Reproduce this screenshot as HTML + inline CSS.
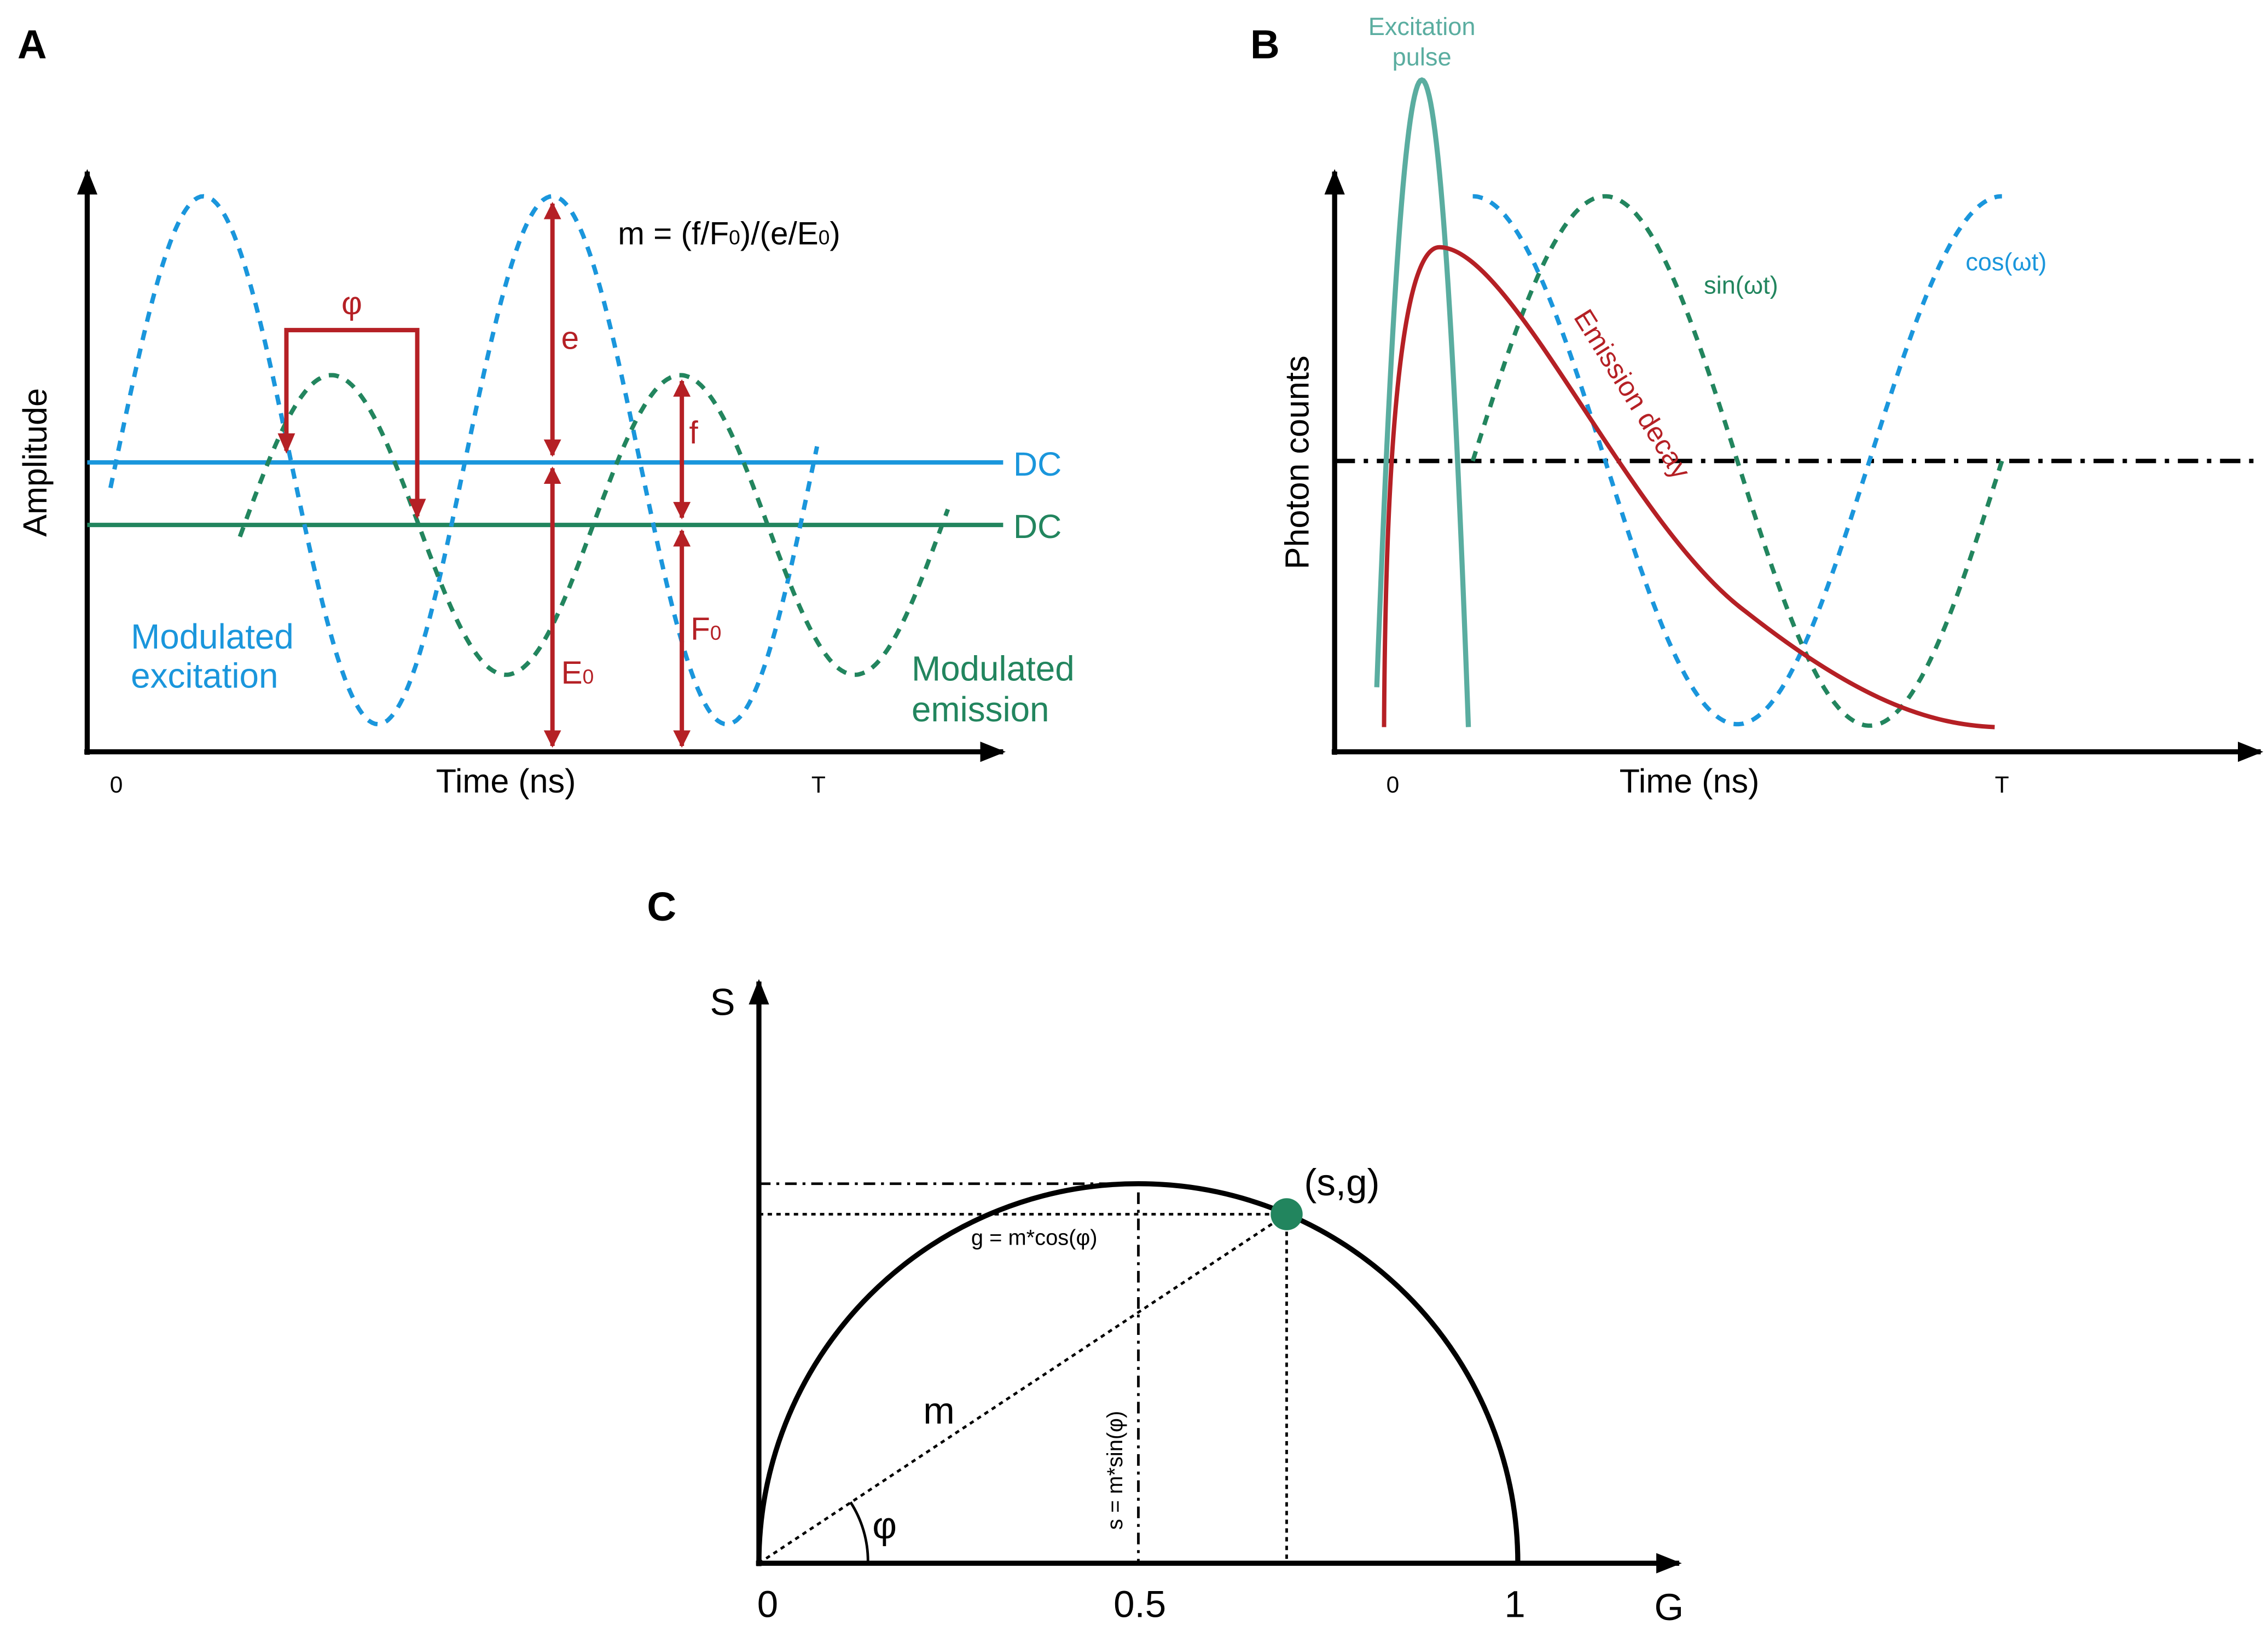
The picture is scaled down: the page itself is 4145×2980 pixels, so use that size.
<!DOCTYPE html>
<html><head><meta charset="utf-8"><style>
html,body{margin:0;padding:0;background:#fff;}
svg{display:block;font-family:"Liberation Sans",sans-serif;}
</style></head><body>
<svg id="fig" width="4145" height="2980" viewBox="0 0 1560 1121.6" preserveAspectRatio="none" xmlns="http://www.w3.org/2000/svg">
<defs>
<marker id="ak" viewBox="0 0 10 10" refX="9" refY="5" markerWidth="5" markerHeight="5" orient="auto"><path d="M0,1 L10,5 L0,9 z" fill="#000"/></marker>
<marker id="ar" viewBox="0 0 10 10" refX="9" refY="5" markerWidth="4" markerHeight="4" orient="auto-start-reverse"><path d="M0,0 L10,5 L0,10 z" fill="#b52025"/></marker>
</defs>
<rect width="1560" height="1122" fill="#fff"/>
<!-- Panel A -->
<g>
<text x="12" y="40" font-size="28" font-weight="bold">A</text>
<line x1="60" y1="519" x2="60" y2="118" stroke="#000" stroke-width="3.5" marker-end="url(#ak)"/>
<line x1="58" y1="517" x2="690" y2="517" stroke="#000" stroke-width="3.5" marker-end="url(#ak)"/>
<text transform="translate(32,318) rotate(-90)" text-anchor="middle" font-size="23">Amplitude</text>
<text x="348" y="545" text-anchor="middle" font-size="23">Time (ns)</text>
<text x="80" y="545" text-anchor="middle" font-size="16">0</text>
<text x="563" y="545" text-anchor="middle" font-size="16">T</text>
<line x1="60" y1="318" x2="690" y2="318" stroke="#1a96dc" stroke-width="3"/>
<line x1="60" y1="361" x2="690" y2="361" stroke="#22855e" stroke-width="3"/>
<text x="697" y="327" font-size="23" fill="#1a96dc">DC</text>
<text x="697" y="370" font-size="23" fill="#22855e">DC</text>
<g id="waveA"></g>
<path d="M197,310 V227 H287 V355" fill="none" stroke="#b52025" stroke-width="3"/>
<path d="M191,298 L197,312 L203,298 z M281,343 L287,357 L293,343 z" fill="#b52025"/>
<text x="242" y="216" text-anchor="middle" font-size="22" fill="#b52025">φ</text>
<line x1="380" y1="140" x2="380" y2="313" stroke="#b52025" stroke-width="3" marker-start="url(#ar)" marker-end="url(#ar)"/>
<line x1="380" y1="322" x2="380" y2="513" stroke="#b52025" stroke-width="3" marker-start="url(#ar)" marker-end="url(#ar)"/>
<line x1="469" y1="262" x2="469" y2="356" stroke="#b52025" stroke-width="3" marker-start="url(#ar)" marker-end="url(#ar)"/>
<line x1="469" y1="365" x2="469" y2="513" stroke="#b52025" stroke-width="3" marker-start="url(#ar)" marker-end="url(#ar)"/>
<text x="386" y="240" font-size="22" fill="#b52025">e</text>
<text x="386" y="470" font-size="22" fill="#b52025">E<tspan font-size="14">0</tspan></text>
<text x="474" y="305" font-size="22" fill="#b52025">f</text>
<text x="475" y="440" font-size="22" fill="#b52025">F<tspan font-size="14">0</tspan></text>
<text x="425" y="168" font-size="22">m = (f/F<tspan font-size="14">0</tspan>)/(e/E<tspan font-size="14">0</tspan>)</text>
<text x="90" y="446" font-size="24" fill="#1a96dc">Modulated</text>
<text x="90" y="473" font-size="24" fill="#1a96dc">excitation</text>
<text x="627" y="468" font-size="24" fill="#22855e">Modulated</text>
<text x="627" y="496" font-size="24" fill="#22855e">emission</text>
</g>
<!-- Panel B -->
<g>
<text x="860" y="40" font-size="28" font-weight="bold">B</text>
<line x1="918" y1="519" x2="918" y2="118" stroke="#000" stroke-width="3.5" marker-end="url(#ak)"/>
<line x1="916" y1="517" x2="1555" y2="517" stroke="#000" stroke-width="3.5" marker-end="url(#ak)"/>
<text transform="translate(900,318) rotate(-90)" text-anchor="middle" font-size="23">Photon counts</text>
<text x="1162" y="545" text-anchor="middle" font-size="23">Time (ns)</text>
<text x="958" y="545" text-anchor="middle" font-size="16">0</text>
<text x="1377" y="545" text-anchor="middle" font-size="16">T</text>
<line x1="918" y1="317" x2="1550" y2="317" stroke="#000" stroke-width="3" stroke-dasharray="14,6,3,6"/>
<g id="waveB"></g>
<text x="978" y="24" text-anchor="middle" font-size="17" fill="#5aada0">Excitation</text>
<text x="978" y="45" text-anchor="middle" font-size="17" fill="#5aada0">pulse</text>
<text x="1172" y="202" font-size="17" fill="#22855e">sin(ωt)</text>
<text x="1352" y="186" font-size="17" fill="#1a96dc">cos(ωt)</text>
<text transform="translate(1082,218) rotate(58)" font-size="19" fill="#b52025">Emission decay</text>
</g>
<!-- Panel C -->
<g>
<text x="445" y="633" font-size="28" font-weight="bold">C</text>
<line x1="522" y1="1077" x2="522" y2="675" stroke="#000" stroke-width="3.5" marker-end="url(#ak)"/>
<line x1="520" y1="1075" x2="1155" y2="1075" stroke="#000" stroke-width="3.5" marker-end="url(#ak)"/>
<text x="497" y="698" text-anchor="middle" font-size="26">S</text>
<text x="1148" y="1114" text-anchor="middle" font-size="26">G</text>
<text x="528" y="1112" text-anchor="middle" font-size="26">0</text>
<text x="784" y="1112" text-anchor="middle" font-size="26">0.5</text>
<text x="1042" y="1112" text-anchor="middle" font-size="26">1</text>
<path d="M522,1075 A261,261 0 0 1 1044,1075" fill="none" stroke="#000" stroke-width="3.5"/>
<line x1="522" y1="814" x2="770" y2="814" stroke="#000" stroke-width="1.8" stroke-dasharray="8,4,2,4"/>
<line x1="783" y1="820" x2="783" y2="1075" stroke="#000" stroke-width="1.8" stroke-dasharray="8,4,2,4"/>
<line x1="522" y1="835" x2="885" y2="835" stroke="#000" stroke-width="1.8" stroke-dasharray="3,3"/>
<line x1="885" y1="835" x2="885" y2="1075" stroke="#000" stroke-width="1.8" stroke-dasharray="3,3"/>
<line x1="522" y1="1075" x2="885" y2="835" stroke="#000" stroke-width="1.8" stroke-dasharray="3,3"/>
<path d="M597,1075 A75,75 0 0 0 585,1033" fill="none" stroke="#000" stroke-width="1.8"/>
<circle cx="885" cy="835" r="11" fill="#22855e"/>
<text x="897" y="822" font-size="26">(s,g)</text>
<text x="668" y="856" font-size="15">g = m*cos(φ)</text>
<text transform="translate(772,1052) rotate(-90)" font-size="15">s = m*sin(φ)</text>
<text x="635" y="979" font-size="26">m</text>
<text x="600" y="1058" font-size="26">φ</text>
</g>
<script>
// Wave parameters (center, amplitude, period, phase-peak x, start, end)
const waveNamesA = ['excitation-wave','emission-wave'];
const centersA = [316.5, 361];
const ampsA = [181.5, 103];
const periodsA = [240, 240];
const peaksA = [140, 228];
const startsA = [76, 165];
const endsA = [562, 652];
const colorsA = ['#1a96dc','#22855e'];
const waveNamesB = ['cos-wave','sin-wave'];
const centersB = [316.5, 317];
const ampsB = [181.5, 182];
const periodsB = [364, 364];
const peaksB = [1013, 1104];
const startsB = [1013, 1013];
const endsB = [1377, 1377];
const colorsB = ['#1a96dc','#22855e'];
const NS='http://www.w3.org/2000/svg';
function wave(g,name,c,a,p,pk,s,e,col){
  let d='';
  for(let x=s;x<=e;x+=1){const y=c-a*Math.cos(2*Math.PI*(x-pk)/p);d+=(x===s?'M':'L')+x+','+y.toFixed(1);}
  const el=document.createElementNS(NS,'path');
  el.setAttribute('d',d);el.setAttribute('fill','none');el.setAttribute('stroke',col);
  el.setAttribute('stroke-width','3');el.setAttribute('stroke-dasharray','7,6');
  
  
  g.appendChild(el);
}
const gA=document.getElementById('waveA');
for(let i=0;i<2;i++)wave(gA,waveNamesA[i],centersA[i],ampsA[i],periodsA[i],peaksA[i],startsA[i],endsA[i],colorsA[i]);
const gB=document.getElementById('waveB');
for(let i=0;i<2;i++)wave(gB,waveNamesB[i],centersB[i],ampsB[i],periodsB[i],peaksB[i],startsB[i],endsB[i],colorsB[i]);
// Excitation pulse
const pulsePeakX=978, pulsePeakY=55, pulseHalfWidth=32, pulseBase=500;
let d='';
for(let x=pulsePeakX-pulseHalfWidth+1;x<=pulsePeakX+pulseHalfWidth;x+=1){const u=(x-pulsePeakX)/pulseHalfWidth;const y=pulseBase-(pulseBase-pulsePeakY)*(1-u*u);d+=(d?'L':'M')+x+','+y.toFixed(1);}
let el=document.createElementNS(NS,'path');el.setAttribute('d',d);el.setAttribute('fill','none');el.setAttribute('stroke','#5aada0');el.setAttribute('stroke-width','3.5');


gB.appendChild(el);
// Emission decay
const decayStart=952, decayPeakX=990, decayPeakY=170, decayEnd=1372, decayBase=500;
d='M'+decayStart+','+decayBase+' C953,300 965,170 '+decayPeakX+','+decayPeakY+' C1040,170 1120,360 1200,420 C1270,475 1320,498 '+decayEnd+','+decayBase;
el=document.createElementNS(NS,'path');el.setAttribute('d',d);el.setAttribute('fill','none');el.setAttribute('stroke','#b52025');el.setAttribute('stroke-width','3');


gB.appendChild(el);
</script>
</svg>
</body></html>
